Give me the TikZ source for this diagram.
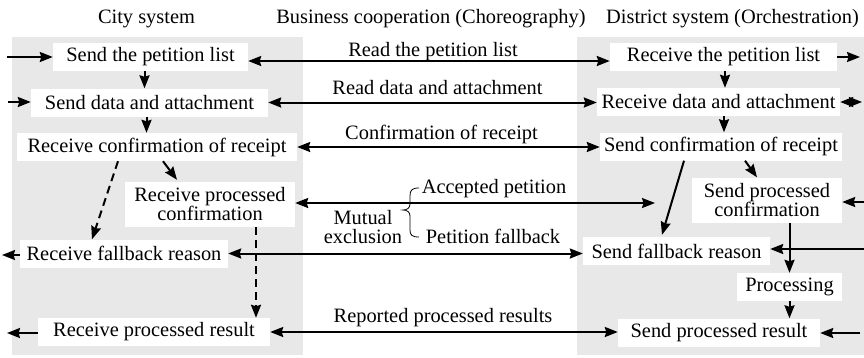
\documentclass[tikz,border=0pt]{standalone}
\usepackage{fontspec}
\setmainfont{Liberation Serif}
\usetikzlibrary{arrows.meta}

\begin{document}
\begin{tikzpicture}[x=1pt,y=-1pt,
  every node/.style={font=\fontsize{20.4pt}{19pt}\selectfont, inner sep=0pt},
  panel/.style={fill={rgb,255:red,232;green,232;blue,232}, draw=none},
  stepbox/.style={fill=white, align=center, minimum height=28pt},
  twoline/.style={stepbox, minimum height=45pt},
  flow/.style={line width=2pt},
  dashflow/.style={flow, dash pattern=on 8pt off 5pt},
  brace/.style={line width=0.8pt},
  >={Stealth[length=13pt,width=10pt,inset=1.5pt]}
]
\useasboundingbox (0,0) rectangle (864,357);

% swimlane backgrounds
\fill[panel] (12,37) rectangle (303,355);
\fill[panel] (577,37) rectangle (864,355);

% lane titles
\node[anchor=base] (tcity) at (146.5,23) {City system};
\node[anchor=base] (tbiz) at (431,23) {Business cooperation (Choreography)};
\node[anchor=base] (tdist) at (732.5,23) {District system (Orchestration)};

% city system activities
\node[stepbox, minimum width=195pt] (A1) at (150.5,57) {Send the petition list};
\node[stepbox, minimum width=237pt] (A2) at (149.5,102.5) {Send data and attachment};
\node[stepbox, minimum width=280pt] (A3) at (157,147) {Receive confirmation of receipt};
\node[twoline, minimum width=170pt] (A4) at (210,204.5) {Receive processed\\confirmation};
\node[stepbox, minimum width=208pt] (A5) at (124,253.5) {Receive fallback reason};
\node[stepbox, minimum width=232pt] (A6) at (154,332) {Receive processed result};

% district system activities
\node[stepbox, minimum width=227pt] (B1) at (723.5,57) {Receive the petition list};
\node[stepbox, minimum width=243pt] (B2) at (718.5,102) {Receive data and attachment};
\node[stepbox, minimum width=242pt] (B3) at (721,146.5) {Send confirmation of receipt};
\node[twoline, minimum width=150pt] (B4) at (767,200) {Send processed\\confirmation};
\node[stepbox, minimum width=187pt] (B5) at (676.5,251) {Send fallback reason};
\node[stepbox, minimum width=105pt] (B6) at (789.5,287) {Processing};
\node[stepbox, minimum width=202pt] (B7) at (719,332.5) {Send processed result};

% message labels
\node[anchor=base] (m1) at (433,56) {Read the petition list};
\node[anchor=base] (m2) at (437.5,94) {Read data and attachment};
\node[anchor=base] (m3) at (441.5,139) {Confirmation of receipt};
\node[anchor=base] (m4) at (494,193) {Accepted petition};
\node[anchor=base] (m5) at (493,243) {Petition fallback};
\node[anchor=base] (m6) at (443,322) {Reported processed results};
\node[anchor=base, align=center] (mx) at (363,243) {Mutual\\exclusion};

% brace grouping the two exclusive messages
\draw[brace] (419,188) .. controls (412,188) and (410,190) .. (410,196)
  -- (410,204) .. controls (410,208) and (407,210) .. (403,210)
  .. controls (407,210) and (410,212) .. (410,216)
  -- (410,230) .. controls (410,235) and (412,237) .. (419,237);

% free ends of external arrows
\coordinate (eA1) at (7,57);
\coordinate (eA2) at (8,102);
\coordinate (eA5) at (2,255);
\coordinate (eA6) at (7,333);
\coordinate (eB1) at (860,57);
\coordinate (eB2) at (862,102);
\coordinate (eB4) at (864,202);
\coordinate (eB5) at (864,249);
\coordinate (eB7) at (860,333);
\coordinate (acc) at (655,203);

% messages between the lanes
\draw[flow,<->] ([yshift=-4pt]A1.east) -- ([yshift=-4pt]A1.east -| B1.west);
\draw[flow,<->] (A2.east) -- (A2.east -| B2.west);
\draw[flow,<->] (A3.east) -- (A3.east -| B3.west);
\draw[flow,<->] (A4.east |- acc) -- (acc);
\draw[flow,<->] (A5.east) -- (A5.east -| B5.west);
\draw[flow,<->] (A6.east) -- (A6.east -| B7.west);

% city system flow
\draw[flow,->] (eA1) -- (A1.west);
\draw[flow,->] (eA2) -- (eA2 -| A2.west);
\draw[flow,->] ([xshift=-6pt]A1.south) -- ([xshift=-6pt]A1.south |- A2.north);
\draw[flow,->] ([xshift=-3pt]A2.south) -- ([xshift=-3pt]A2.south |- A3.north);
\draw[dashflow,->] ([xshift=-39pt]A3.south) -- ([xshift=-32pt]A5.north);
\draw[flow,->] ([xshift=6pt]A3.south) -- ([xshift=-33pt,yshift=2pt]A4.north);
\draw[dashflow,->] ([xshift=46pt]A4.south) -- ([xshift=46pt]A4.south |- A6.north);
\draw[flow,->] (A5.west |- eA5) -- (eA5);
\draw[flow,->] (A6.west |- eA6) -- (eA6);

% district system flow
\draw[flow,->] (B1.east) -- (eB1);
\draw[flow,<->] (B2.east) -- (eB2);
\draw[flow,->] ([xshift=1.5pt]B1.south) -- ([xshift=1.5pt]B1.south |- B2.north);
\draw[flow,->] ([xshift=5.5pt]B2.south) -- ([xshift=5.5pt]B2.south |- B3.north);
\draw[flow,->] ([xshift=-37pt]B3.south) -- ([xshift=-14.5pt,yshift=2pt]B5.north);
\draw[flow,->] ([xshift=24pt]B3.south) -- ([xshift=-10pt]B4.north);
\draw[flow,->] (B4.south -| B6.north) -- (B6.north);
\draw[flow,->] (B6.south) -- (B6.south |- B7.north);
\draw[flow,->] (eB4) -- (eB4 -| B4.east);
\draw[flow,->] (eB5) -- (eB5 -| B5.east);
\draw[flow,->] (eB7) -- (eB7 -| B7.east);
\end{tikzpicture}
\end{document}
